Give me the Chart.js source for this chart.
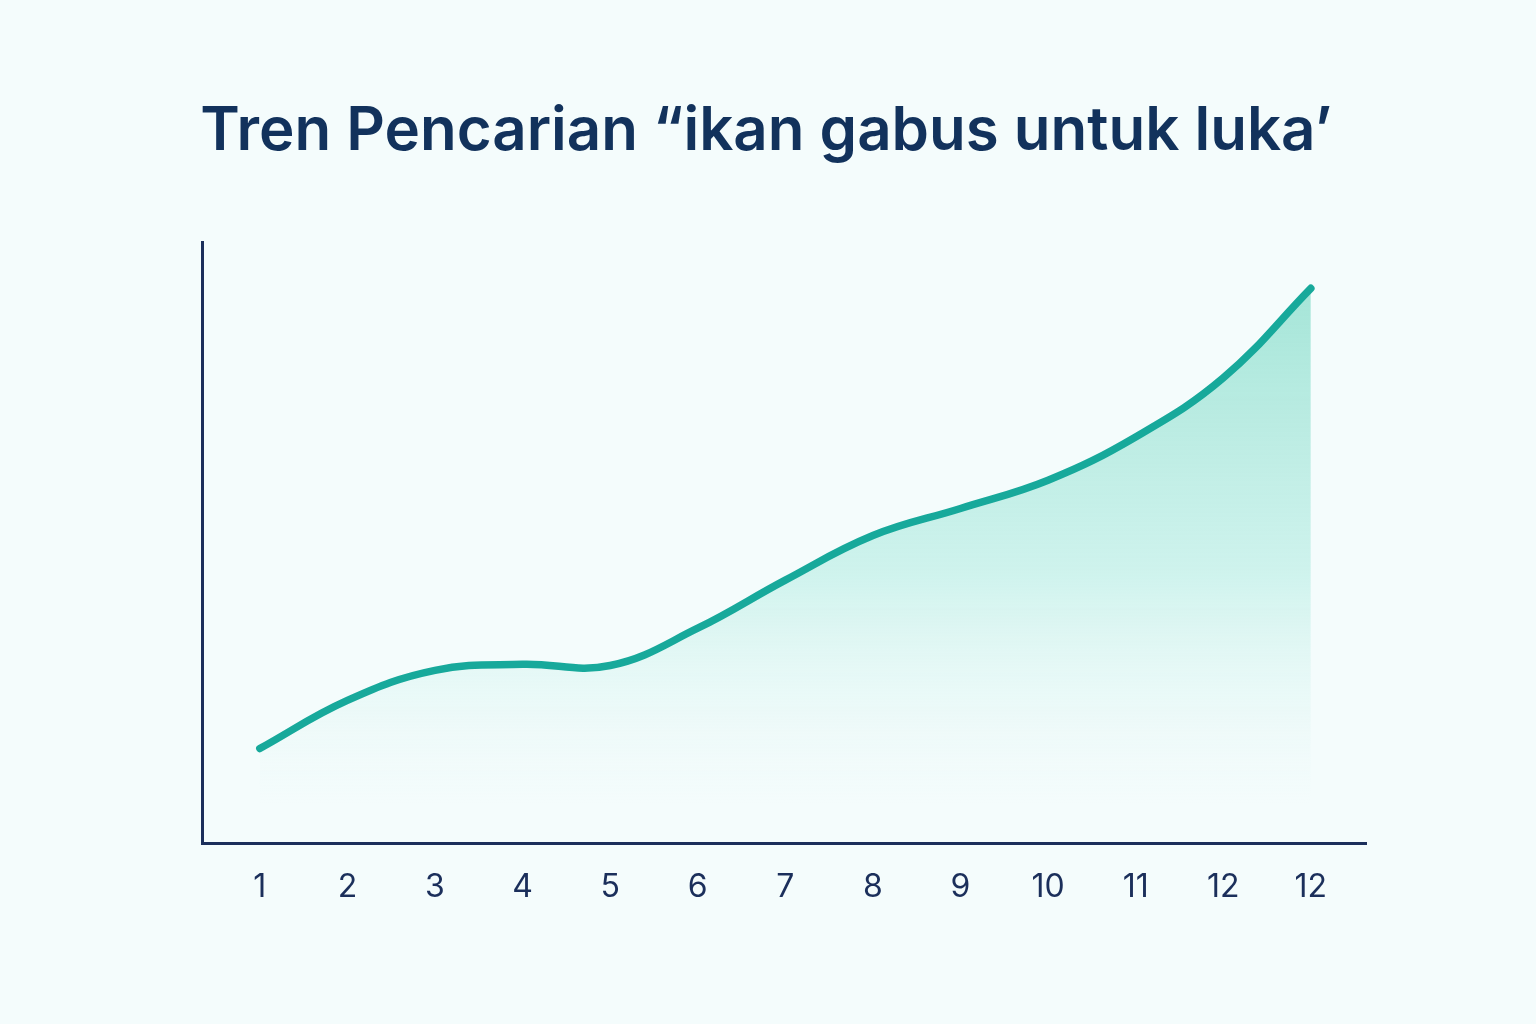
<!DOCTYPE html>
<html>
<head>
<meta charset="utf-8">
<script src="https://cdn.jsdelivr.net/npm/chart.js@4"></script>
<style>
  html, body { margin: 0; padding: 0; background: #f4fcfc; }
  #wrap { width: 1536px; height: 1024px; }
</style>
</head>
<body>
<div id="wrap"><canvas id="chart-1" width="1536" height="1024"></canvas></div>
<script>
// Search trend data (0-100 scale)
var labels = ['1', '2', '3', '4', '5', '6', '7', '8', '9', '10', '11', '12', '12'];
var values = [15.8, 23.8, 28.8, 29.8, 29.6, 35.8, 43.8, 51.2, 55.7, 60.4, 67.6, 77.4, 92.3];

var points = values.map(function (v, i) { return { x: i, y: v }; });

var navy = '#1b2f5b';

var ctx = document.getElementById('chart-1').getContext('2d');
var chart = new Chart(ctx, {
    type: 'line',
    data: {
        datasets: [{
            data: points,
            borderColor: '#17a99b',
            borderWidth: 7.5,
            borderCapStyle: 'round',
            pointRadius: 0,
            tension: 0.4,
            fill: 'origin',
            backgroundColor: function (context) {
                var area = context.chart.chartArea;
                if (!area) return 'rgba(160,228,214,0.5)';
                var g = context.chart.ctx.createLinearGradient(0, area.top + 40, 0, area.bottom - 40);
                g.addColorStop(0, 'rgba(150,224,208,0.85)');
                g.addColorStop(0.55, 'rgba(180,236,226,0.6)');
                g.addColorStop(1, 'rgba(230,248,246,0)');
                return g;
            }
        }]
    },
    options: {
        responsive: false,
        animation: false,
        layout: {
            padding: { left: 166, right: 170, top: 0, bottom: 100 }
        },
        plugins: {
            legend: { display: false },
            tooltip: { enabled: false },
            title: {
                display: true,
                text: 'Tren Pencarian \u201cikan gabus untuk luka\u2019',
                color: '#12325c',
                font: { family: 'Inter', size: 60, weight: '600' },
                padding: { top: 96, bottom: 74 }
            }
        },
        scales: {
            x: {
                type: 'linear',
                min: -0.66,
                max: 12.63,
                grid: { display: false },
                border: { display: true, color: navy, width: 3 },
                ticks: {
                    stepSize: 1,
                    includeBounds: false,
                    autoSkip: false,
                    maxRotation: 0,
                    padding: 17,
                    color: navy,
                    font: { family: 'Inter', size: 32 },
                    callback: function (v) {
                        return Number.isInteger(v) ? labels[v] : null;
                    }
                }
            },
            y: {
                min: 0,
                max: 100,
                grid: { display: false },
                border: { display: true, color: navy, width: 3 },
                ticks: { display: false },
                afterFit: function (axis) { axis.width = 36; }
            }
        }
    }
});
</script>
</body>
</html>
